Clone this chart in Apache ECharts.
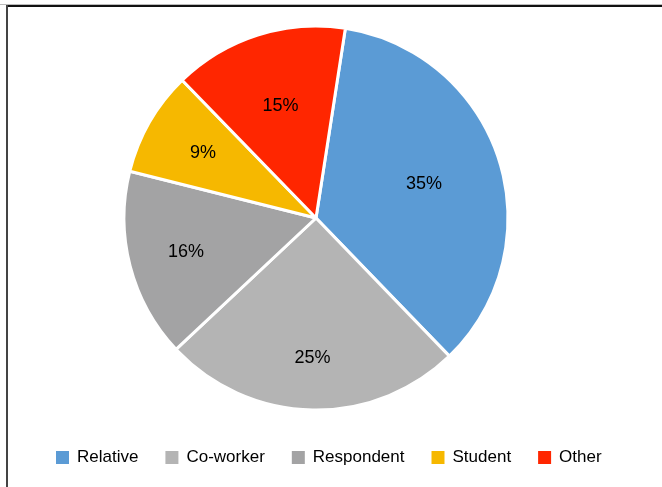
<!DOCTYPE html>
<html>
<head>
<meta charset="utf-8">
<script src="https://cdn.jsdelivr.net/npm/echarts@6/dist/echarts.min.js"></script>
<style>
html,body{margin:0;padding:0;background:#fff;}
#c{width:662px;height:487px;}
</style>
</head>
<body>
<div id="c"></div>
<script>
const categories = ['Relative', 'Co-worker', 'Respondent', 'Student', 'Other'];
const values = [35.3, 25.2, 15.9, 8.8, 14.7];
const colors = ['#5B9BD5', '#B4B4B4', '#A3A3A4', '#F6B800', '#FF2600'];
// label distance from centre as a fraction of the radius (style only)
const labelRadius = [0.59, 0.73, 0.70, 0.68, 0.61];

const FONT = '"Liberation Sans", Arial, Helvetica, sans-serif';
const CX = 316, CY = 218, R = 192, START = 81.2;

const chart = echarts.init(document.getElementById('c'), null, { renderer: 'canvas' });
chart.setOption({
  backgroundColor: '#fff',
  animation: false,
  graphic: [
    { type: 'rect', shape: { x: 0, y: 4, width: 662, height: 1 }, style: { fill: '#bbb' }, silent: true },
    { type: 'rect', shape: { x: 6, y: 5, width: 662, height: 2 }, style: { fill: '#111' }, silent: true },
    { type: 'rect', shape: { x: 6, y: 5, width: 2, height: 482 }, style: { fill: '#444' }, silent: true }
  ],
  legend: {
    data: categories,
    left: 54,
    top: 449,
    padding: 0,
    itemWidth: 15,
    itemHeight: 15,
    itemGap: 25,
    icon: 'rect',
    textStyle: { fontFamily: FONT, fontSize: 17, color: '#000', padding: [0, 0, 0, 2] }
  },
  series: [
    {
      type: 'pie',
      center: [CX, CY],
      radius: [0, R],
      startAngle: START,
      clockwise: true,
      data: categories.map((name, i) => ({ name, value: values[i], itemStyle: { color: colors[i] } })),
      label: { show: false },
      labelLine: { show: false },
      itemStyle: { borderColor: '#fff', borderWidth: 3 },
      silent: true
    },
    {
      type: 'pie',
      center: [CX, CY],
      radius: [0, R],
      startAngle: START,
      clockwise: true,
      data: categories.map((name, i) => ({ name, value: values[i] })),
      itemStyle: { color: 'rgba(0,0,0,0)', borderWidth: 0 },
      label: {
        show: true,
        position: 'inside',
        formatter: p => Math.round(p.value) + '%',
        fontFamily: FONT,
        fontSize: 18,
        color: '#000'
      },
      labelLine: { show: false },
      labelLayout: function (params) {
        const r = params.labelRect;
        const lx = r.x + r.width / 2, ly = r.y + r.height / 2;
        const dx = lx - CX, dy = ly - CY;
        const d = Math.sqrt(dx * dx + dy * dy) || 1;
        const k = labelRadius[params.dataIndex] * R / d;
        return { dx: dx * (k - 1), dy: dy * (k - 1) };
      },
      silent: true,
      legendHoverLink: false
    }
  ]
});
</script>
</body>
</html>
